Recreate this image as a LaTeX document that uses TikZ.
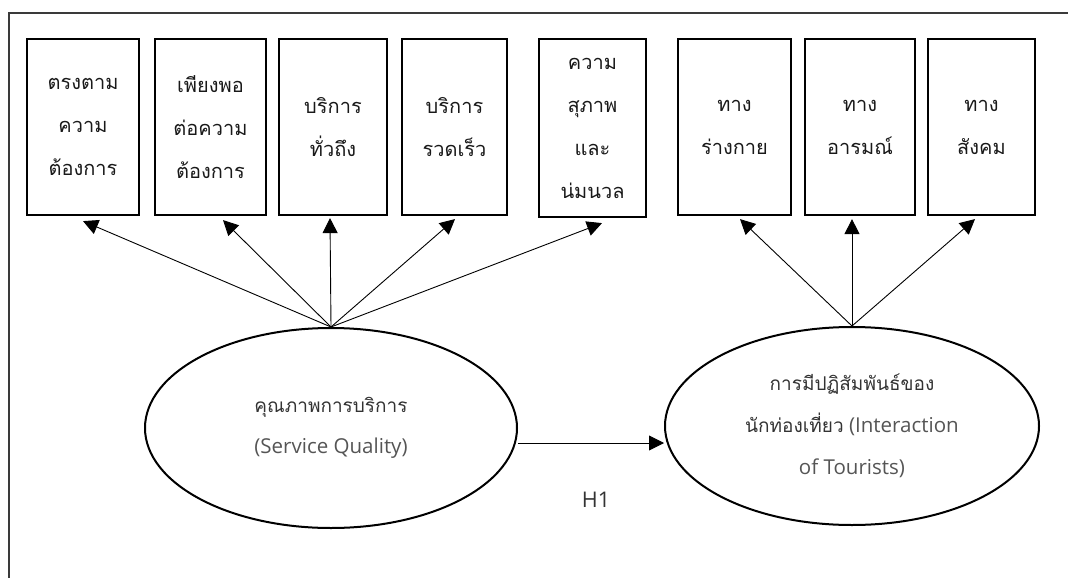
\documentclass[tikz,border=0pt]{standalone}
\usepackage{fontspec}
\setmainfont{Open Sans}[Scale=1.08]
\newfontfamily\thaifont[Script=Thai]{Loma}
\usetikzlibrary{arrows.meta,calc,shapes.geometric}

\definecolor{framegray}{HTML}{3A3A3A}
\definecolor{thaitext}{HTML}{333333}
\definecolor{latintext}{HTML}{555555}

\begin{document}
\begin{tikzpicture}[x=1pt,y=-1pt,
  indicator/.style={draw=black,line width=2.2pt,rectangle,minimum height=176pt,
    align=center,inner sep=0pt,font=\thaifont\fontsize{20}{43}\selectfont,text=black!90},
  construct/.style={draw=black,line width=2pt,ellipse,inner sep=0pt,align=center,
    font=\fontsize{19}{42}\selectfont},
  loading/.style={line width=0.9pt,-{Triangle[length=15pt,width=15pt]}}]
\useasboundingbox (0,0) rectangle (1068,578);

% outer frame (top and left edges)
\draw[framegray,line width=1.4pt] (9,578) -- (9,13) -- (1068,13);

% indicator boxes of service quality
\node[indicator,minimum width=112pt] (b1) at (83,127) {ตรงตาม\\ความ\\ต้องการ};
\node[indicator,minimum width=111pt] (b2) at (210.5,127) {เพียงพอ\\ต่อความ\\ต้องการ};
\node[indicator,minimum width=108pt] (b3) at (333,127) {บริการ\\ทั่วถึง};
\node[indicator,minimum width=105pt] (b4) at (454.5,127) {บริการ\\รวดเร็ว};
\node[indicator,minimum width=107pt,minimum height=178pt] (b5) at (592.5,128) {ความ\\สุภาพ\\และ\\น่มนวล};

% indicator boxes of tourist interaction
\node[indicator,minimum width=113pt] (b6) at (734.5,127) {ทาง\\ร่างกาย};
\node[indicator,minimum width=110pt] (b7) at (860,127) {ทาง\\อารมณ์};
\node[indicator,minimum width=107pt] (b8) at (981.5,127) {ทาง\\สังคม};

% latent constructs
\node[construct,minimum width=372pt,minimum height=200pt] (e1) at (331,428)
  {{\thaifont\color{thaitext}คุณภาพการบริการ}\\[-1pt]\textcolor{latintext}{(Service Quality)}};
\node[construct,minimum width=374pt,minimum height=198pt] (e2) at (852,426)
  {{\thaifont\color{thaitext}การมีปฏิสัมพันธ์ของ}\\
   {\thaifont\color{thaitext}นักท่องเที่ยว}\ \textcolor{latintext}{(Interaction}\\
   \textcolor{latintext}{of Tourists)}};

% arrow tips just below each box
\coordinate (t1) at ($(b1.south)+(0,5)$);
\coordinate (t2) at ($(b2.south)+(12.5,4)$);
\coordinate (t3) at ($(b3.south)+(-3,2)$);
\coordinate (t4) at ($(b4.south)+(0.5,3)$);
\coordinate (t5) at ($(b5.south)+(9.5,5)$);
\coordinate (t6) at ($(b6.south)+(5.5,3)$);
\coordinate (t7) at ($(b7.south)+(-8,3)$);
\coordinate (t8) at ($(b8.south)+(-6.5,3)$);

\foreach \i in {1,...,5} \draw[loading] (e1.north) -- (t\i);
\foreach \i in {6,7,8} \draw[loading] (e2.north) -- (t\i);

% structural path
\draw[loading] (e1.east |- 0,443) -- (e2.west |- 0,443);
\node[text=thaitext,font=\fontsize{20}{24}\selectfont] (h1) at (596,500) {H1};
\end{tikzpicture}
\end{document}
